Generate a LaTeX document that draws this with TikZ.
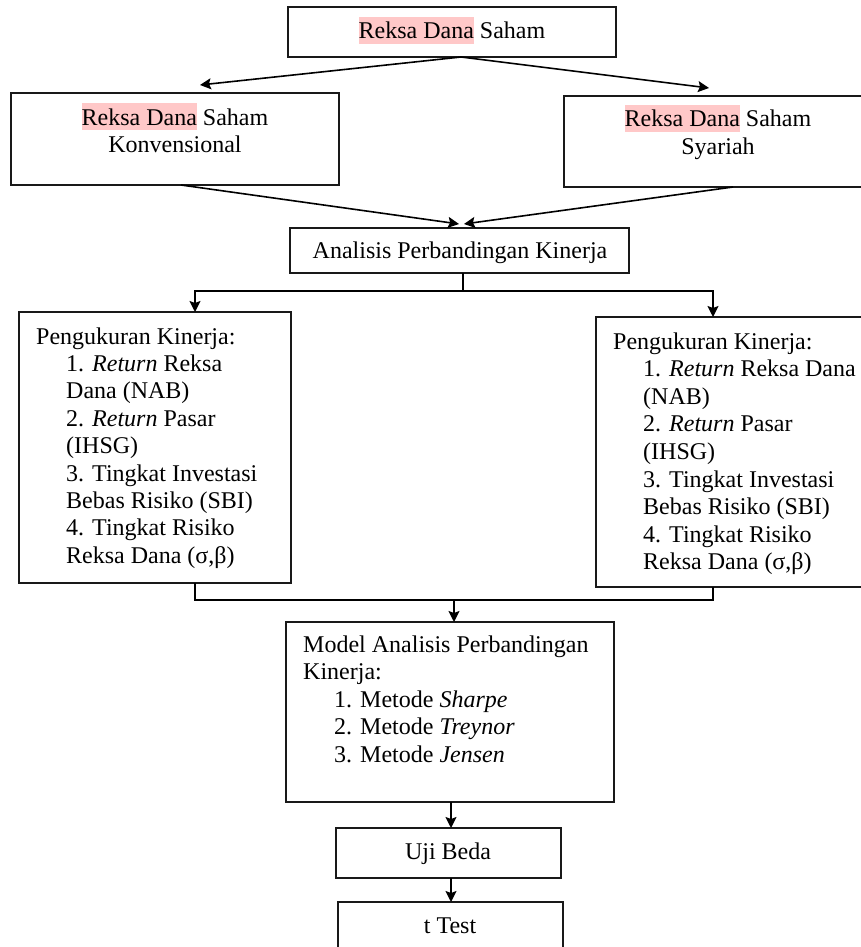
\documentclass[tikz,border=0pt]{standalone}
\usepackage{fontspec}
\setmainfont{Liberation Serif}
\usetikzlibrary{arrows.meta}
\definecolor{hlpink}{RGB}{255,200,200}
\newcommand\hlmark[1]{{\setlength\fboxsep{0pt}\colorbox{hlpink}{\rule[-5pt]{0pt}{27pt}#1}}}
\begin{document}
\begin{tikzpicture}[x=1pt,y=-1pt,
  box/.style={draw=black!90, line width=1.6pt, anchor=north west, inner sep=0pt, outer sep=0pt},
  txt/.style={inner sep=0pt, font=\fontsize{24}{27.4}\selectfont},
  arr/.style={line width=1.6pt, -{Stealth[length=11pt,width=11pt,inset=2pt]}},
  ln/.style={line width=1.6pt}]
\clip (0,0) rectangle (861,947);
\fill[white] (0,0) rectangle (861,947);
% boxes
\node[box, minimum width=328, minimum height=50] (top) at (288,7) {};
\node[box, minimum width=328, minimum height=92] (lk) at (11,93) {};
\node[box, minimum width=311, minimum height=91] (sk) at (564,96) {};
\node[box, minimum width=339, minimum height=45] (apk) at (290,228) {};
\node[box, minimum width=272, minimum height=271] (plbox) at (19,312) {};
\node[box, minimum width=279, minimum height=270] (prbox) at (596,317) {};
\node[box, minimum width=328, minimum height=180] (model) at (286,622) {};
\node[box, minimum width=225, minimum height=50] (uji) at (336,828) {};
\node[box, minimum width=225, minimum height=60] (tt) at (338,902) {};
% texts
\node[txt, anchor=base] (t1) at (452,39) {\hlmark{Reksa Dana} Saham};
\node[txt, anchor=base] (t2a) at (175,125) {\hlmark{Reksa Dana} Saham};
\node[txt, anchor=base] (t2b) at (175,152.4) {Konvensional};
\node[txt, anchor=base] (t3a) at (718,127) {\hlmark{Reksa Dana} Saham};
\node[txt, anchor=base] (t3b) at (718,154.4) {Syariah};
\node[txt, anchor=base] (t4) at (460,258) {Analisis Perbandingan Kinerja};
\node[txt, anchor=base west] (plh) at (36,344) {Pengukuran Kinerja:};
\foreach \t [count=\i] in {{1. \textit{Return} Reksa},{Dana (NAB)},{2. \textit{Return} Pasar},{(IHSG)},{3. Tingkat Investasi},{Bebas Risiko (SBI)},{4. Tingkat Risiko},{Reksa Dana (σ,β)}}
  \node[txt, anchor=base west] (pl\i) at (66,344+27.4*\i) {\t};
\node[txt, anchor=base west] (prh) at (613,349) {Pengukuran Kinerja:};
\foreach \t [count=\i] in {{1. \textit{Return} Reksa Dana},{(NAB)},{2. \textit{Return} Pasar},{(IHSG)},{3. Tingkat Investasi},{Bebas Risiko (SBI)},{4. Tingkat Risiko},{Reksa Dana (σ,β)}}
  \node[txt, anchor=base west] (pr\i) at (643,349+27.6*\i) {\t};
\node[txt, anchor=base west] (mh1) at (303,652) {Model Analisis Perbandingan};
\node[txt, anchor=base west] (mh2) at (303,679.5) {Kinerja:};
\node[txt, anchor=base west] (m1) at (334,707) {1. Metode \textit{Sharpe}};
\node[txt, anchor=base west] (m2) at (334,734.5) {2. Metode \textit{Treynor}};
\node[txt, anchor=base west] (m3) at (334,762) {3. Metode \textit{Jensen}};
\node[txt, anchor=base] (u1) at (448,859) {Uji Beda};
\node[txt, anchor=base] (tt1) at (450,933) {t Test};
% connectors
\coordinate (a1) at (200,85);
\coordinate (a2) at (709,88);
\coordinate (b1) at (459,224);
\coordinate (b2) at (464,224);
\draw[arr] ([xshift=9]top.south) -- (a1);
\draw[arr] ([xshift=9]top.south) -- (a2);
\draw[arr] ([xshift=6]lk.south) -- (b1);
\draw[arr] ([xshift=13.5]sk.south) -- (b2);
\draw[ln] ([xshift=3.5]apk.south) -- ++(0,18) coordinate (j1);
\draw[arr] (j1) -| ([xshift=40]plbox.north);
\draw[arr] (j1) -| ([xshift=-22.5]prbox.north);
\coordinate (j2) at (454,600);
\draw[ln] ([xshift=40]plbox.south) |- (j2) -| ([xshift=-22.5]prbox.south);
\draw[arr] (j2) -- (j2 |- model.north);
\draw[arr] ([xshift=1]model.south) -- ([xshift=1]model.south |- uji.north);
\draw[arr] ([xshift=1]model.south |- uji.south) -- ([xshift=1]model.south |- tt.north);
\end{tikzpicture}
\end{document}
